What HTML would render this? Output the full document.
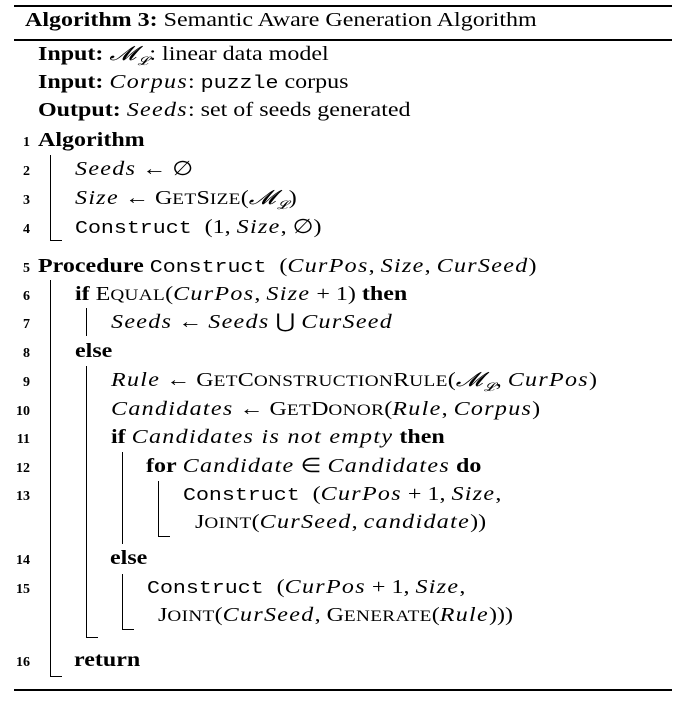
<!DOCTYPE html>
<html><head><meta charset="utf-8"><style>
body{margin:0;background:#fff;width:686px;height:708px;position:relative;overflow:hidden;font-family:"Liberation Serif",serif;color:#000}
.l{position:absolute;font-size:20px;line-height:24px;white-space:nowrap;transform:scaleX(1.2);transform-origin:0 0}
.n{position:absolute;font-size:14px;font-weight:bold;line-height:24px;width:30px;text-align:right}
.m{font-family:"Liberation Mono",monospace;font-size:18px}
i{font-style:italic;letter-spacing:1.1px}
s{text-decoration:none;font-size:16px;letter-spacing:0.3px}
.rule{position:absolute;left:14px;width:658px;background:#000}
.v{position:absolute;width:1px;background:#000}
.h{position:absolute;height:1px;background:#000}
</style></head><body>
<div class="rule" style="top:5px;height:2px"></div>
<div class="l" style="left:25px;top:8px"><b>Algorithm 3:</b> Semantic Aware Generation Algorithm</div>
<div class="rule" style="top:39px;height:2px"></div>
<div class="rule" style="top:689px;height:2px"></div>

<div class="l" style="left:38px;top:42px"><b>Input:</b> <i>𝓜<sub style="font-size:12px">𝓛</sub></i>: linear data model</div>
<div class="l" style="left:38px;top:70px"><b>Input:</b> <i>Corpus</i>: <span class="m">puzzle</span> corpus</div>
<div class="l" style="left:38px;top:98px"><b>Output:</b> <i>Seeds</i>: set of seeds generated</div>

<div class="n" style="left:0;top:131px">1</div>
<div class="l" style="left:38px;top:128px"><b>Algorithm</b></div>
<div class="n" style="left:0;top:160px">2</div>
<div class="l" style="left:75px;top:157px"><i>Seeds</i> ← ∅</div>
<div class="n" style="left:0;top:189px">3</div>
<div class="l" style="left:75px;top:186px"><i>Size</i> ← G<s>ET</s>S<s>IZE</s>(<i>𝓜<sub style="font-size:12px">𝓛</sub></i>)</div>
<div class="n" style="left:0;top:218px">4</div>
<div class="l" style="left:75px;top:215px"><span class="m">Construct </span>(1, <i>Size</i>, ∅)</div>

<div class="n" style="left:0;top:257px">5</div>
<div class="l" style="left:38px;top:254px"><b>Procedure</b> <span class="m">Construct </span>(<i>CurPos</i>, <i>Size</i>, <i>CurSeed</i>)</div>
<div class="n" style="left:0;top:285px">6</div>
<div class="l" style="left:75px;top:282px"><b>if</b> E<s>QUAL</s>(<i>CurPos</i>, <i>Size</i> + 1) <b>then</b></div>
<div class="n" style="left:0;top:313px">7</div>
<div class="l" style="left:111px;top:310px"><i>Seeds</i> ← <i>Seeds</i> ⋃ <i>CurSeed</i></div>
<div class="n" style="left:0;top:342px">8</div>
<div class="l" style="left:75px;top:339px"><b>else</b></div>
<div class="n" style="left:0;top:371px">9</div>
<div class="l" style="left:111px;top:368px"><i>Rule</i> ← G<s>ET</s>C<s>ONSTRUCTION</s>R<s>ULE</s>(<i>𝓜<sub style="font-size:12px">𝓛</sub></i>, <i>CurPos</i>)</div>
<div class="n" style="left:0;top:400px">10</div>
<div class="l" style="left:111px;top:397px"><i>Candidates</i> ← G<s>ET</s>D<s>ONOR</s>(<i>Rule</i>, <i>Corpus</i>)</div>
<div class="n" style="left:0;top:428px">11</div>
<div class="l" style="left:111px;top:425px"><b>if</b> <i>Candidates is not empty</i> <b>then</b></div>
<div class="n" style="left:0;top:457px">12</div>
<div class="l" style="left:146px;top:454px"><b>for</b> <i>Candidate</i> ∈ <i>Candidates</i> <b>do</b></div>
<div class="n" style="left:0;top:485px">13</div>
<div class="l" style="left:183px;top:482px"><span class="m">Construct </span>(<i>CurPos</i> + 1, <i>Size</i>,</div>
<div class="l" style="left:195px;top:510px">J<s>OINT</s>(<i>CurSeed</i>, <i>candidate</i>))</div>
<div class="n" style="left:0;top:549px">14</div>
<div class="l" style="left:110px;top:546px"><b>else</b></div>
<div class="n" style="left:0;top:578px">15</div>
<div class="l" style="left:147px;top:575px"><span class="m">Construct </span>(<i>CurPos</i> + 1, <i>Size</i>,</div>
<div class="l" style="left:158px;top:603px">J<s>OINT</s>(<i>CurSeed</i>, G<s>ENERATE</s>(<i>Rule</i>)))</div>
<div class="n" style="left:0;top:651px">16</div>
<div class="l" style="left:74px;top:648px"><b>return</b></div>

<div class="v" style="left:50px;top:155px;height:85px"></div>
<div class="h" style="left:50px;top:240px;width:12px"></div>
<div class="v" style="left:50px;top:280px;height:396px"></div>
<div class="h" style="left:50px;top:676px;width:12px"></div>
<div class="v" style="left:86px;top:308px;height:28px"></div>
<div class="v" style="left:86px;top:366px;height:271px"></div>
<div class="h" style="left:86px;top:637px;width:12px"></div>
<div class="v" style="left:122px;top:452px;height:92px"></div>
<div class="v" style="left:158px;top:481px;height:55px"></div>
<div class="h" style="left:158px;top:536px;width:12px"></div>
<div class="v" style="left:122px;top:574px;height:55px"></div>
<div class="h" style="left:122px;top:629px;width:12px"></div>
</body></html>
